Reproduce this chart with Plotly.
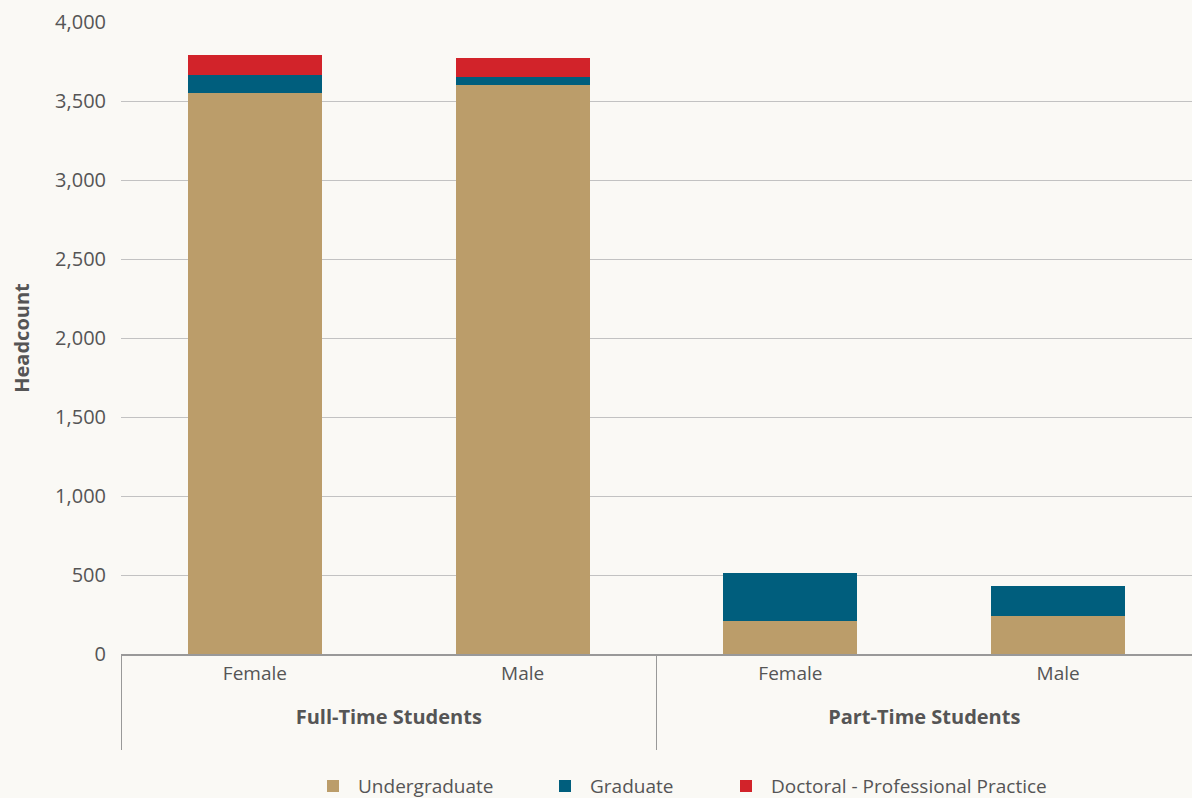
import plotly.graph_objects as go

groups = ["Full-Time Students", "Full-Time Students", "Part-Time Students", "Part-Time Students"]
genders = ["Female", "Male", "Female", "Male"]
undergraduate = [3550, 3600, 207, 240]
graduate = [117, 50, 304, 188]
doctoral = [122, 120, 0, 0]

series_names = ["Undergraduate", "Graduate", "Doctoral - Professional Practice"]
series_colors = ["#BB9D6A", "#005E7D", "#D2232A"]

grp_labels = ["<br><b><span style='font-size:20px'>" + g + "</span></b><br> " for g in groups]
gender_labels = ["<span style='font-size:19px'>" + g + "</span>" for g in genders]
x = [grp_labels, gender_labels]

legend_ids = ["legend", "legend2", "legend3"]
legend_left_px = [308, 540, 721]

fig = go.Figure()
for name, vals, col, lg in zip(series_names, [undergraduate, graduate, doctoral], series_colors, legend_ids):
    fig.add_trace(go.Bar(name=name, x=x, y=vals, legend=lg,
                         marker=dict(color=col, line=dict(width=0))))

FONT = "Open Sans, Liberation Sans, sans-serif"
legend_common = dict(orientation="h", xanchor="left", y=-0.179, yanchor="top",
                     font=dict(size=19, color="#555555"), itemwidth=40,
                     bgcolor="rgba(0,0,0,0)")
fig.update_layout(
    barmode="stack",
    bargap=0.5,
    width=1192, height=798,
    margin=dict(l=121, r=0, t=22, b=144, autoexpand=False),
    paper_bgcolor="#FAF9F5",
    plot_bgcolor="#FAF9F5",
    font=dict(family=FONT, size=19, color="#555555"),
    showlegend=True,
    xaxis=dict(type="multicategory", showdividers=True, dividercolor="#999999", dividerwidth=1,
               showline=True, linecolor="#999999", linewidth=1.5, ticks="",
               automargin=False, ticklabelstandoff=5,
               tickfont=dict(size=16, color="#555555")),
    yaxis=dict(range=[0, 4000], tickvals=[0, 500, 1000, 1500, 2000, 2500, 3000, 3500, 4000],
               tickformat=",d", showgrid=True, gridcolor="#C2C2C2", gridwidth=1,
               zeroline=False, ticks="", ticklabelstandoff=14, automargin=False,
               tickfont=dict(size=20, color="#555555"),
               title=dict(text="<b>Headcount</b>", font=dict(size=20, color="#555555"), standoff=20)),
)
for lg, px in zip(legend_ids, legend_left_px):
    fig.update_layout({lg: dict(legend_common, x=(px - 121) / 1071)})

fig.write_html("out.html", config={"displayModeBar": False},
               post_script="document.body.style.margin='0';")
